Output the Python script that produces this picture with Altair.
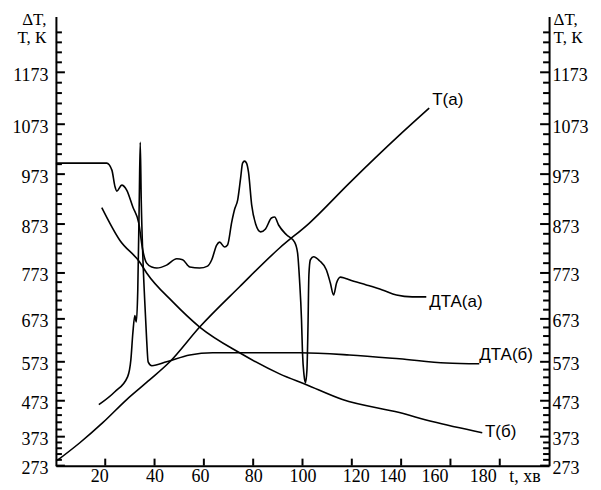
import altair as alt
import pandas as pd

# ---------------- data ----------------
# T(a): heating curve
ta_t = [0.4, 9.7, 19.0, 28.7, 38.1, 46.2, 58.3, 74.5, 90.7, 102.8, 119.0, 139.3, 151.4]
ta_v = [290, 352, 412, 476, 527, 573, 654, 743, 824, 875, 955, 1051, 1104]

# T(б): cooling curve
tb_t = [18.6, 25.9, 34.0, 36.8, 47.4, 58.3, 74.5, 90.7, 101.6, 116.2, 139.3, 152.6, 172.9]
tb_v = [906, 840, 795, 773, 710, 654, 594, 542, 514, 476, 440, 415, 384]

# ДТА(б)
db_t = [17.4, 23.9, 29.1, 30.4, 31.2, 32.0, 32.6, 33.2, 33.8, 34.2, 34.6, 35.2, 36.0,
        36.8, 37.4, 38.9, 44.9, 54.3, 63.6, 74.5, 98.8, 119.0, 139.3, 158.3, 171.7]
db_v = [462, 496, 535, 578, 640, 680, 666, 736, 921, 1037, 921, 814, 714,
        624, 573, 563, 573, 589, 594, 594, 594, 589, 580, 570, 568]

# ДТА(а)
da_t = [0, 20.6, 22.7, 23.9, 24.7, 26.7, 28.7, 31.2, 33.6, 35.2, 36.8, 38.9, 40.9,
        44.9, 49.0, 51.4, 54.3, 58.3, 61.5, 63.2, 65.2, 66.4, 68.4, 69.6, 71.3, 72.5,
        73.7, 74.9, 75.7, 76.5, 77.3, 78.1, 79.4, 81.0, 83.0, 85.0, 87.4, 88.7, 90.3,
        93.5, 96.8, 98.0, 98.8, 99.6, 100.0, 100.6, 101.2, 101.8, 102.2, 102.6, 103.2,
        104.5, 106.9, 109.7, 111.3, 112.6, 113.8, 115.4, 117.0, 119.0, 125.9, 132.4,
        138.1, 144.5, 150.2]
da_v = [995, 995, 981, 949, 939, 951, 941, 907, 875, 820, 793, 785, 783,
        789, 802, 800, 785, 783, 787, 800, 830, 836, 826, 830, 877, 903,
        921, 965, 995, 999, 995, 977, 911, 873, 857, 863, 885, 887, 871,
        851, 836, 814, 758, 671, 594, 540, 519, 552, 647, 769, 800,
        806, 798, 779, 751, 725, 751, 764, 762, 758, 747, 736,
        725, 721, 721]

# curve labels
lab_text = ["Т(а)", "ДТА(а)", "ДТА(б)", "Т(б)"]
lab_t = [152.6, 151.4, 171.7, 174.0]
lab_v = [1119, 710, 589, 387]

# axis ticks
y_major = [273, 373, 473, 573, 673, 773, 873, 973, 1073, 1173]
y_minor = [v for v in range(293, 1285, 20) if (v - 273) % 100 != 0]
x_major = [20, 40, 60, 80, 100, 120, 140, 160, 180]
x_unit_pos = 190
y_title = ["ΔT,", "T, К"]

# ---------------- frames ----------------
rows = []
for name, ts, vs in [("Ta", ta_t, ta_v), ("Tb", tb_t, tb_v),
                     ("DTAb", db_t, db_v), ("DTAa", da_t, da_v)]:
    for i, (t, v) in enumerate(zip(ts, vs)):
        rows.append({"series": name, "t": t, "v": v, "i": i})
df = pd.DataFrame(rows)
lab_df = pd.DataFrame({"t": lab_t, "v": lab_v, "text": lab_text})

ymaj_left = pd.DataFrame({"t": 0, "v": y_major})
ymin_left = pd.DataFrame({"t": 0, "v": y_minor})
ymaj_right = pd.DataFrame({"t": 200, "v": y_major})
ymin_right = pd.DataFrame({"t": 200, "v": y_minor})
xmaj = pd.DataFrame({"t": x_major, "v": 273})

# ---------------- scales ----------------
Y_DOMAIN = [273, 373, 473, 573, 673, 773, 873, 973, 1073, 1173, 1285]
Y_RANGE = [450, 421, 385, 346, 303, 257, 208, 158, 108, 56, 0]
yscale = alt.Scale(domain=Y_DOMAIN, range=Y_RANGE, nice=False, zero=False)
xscale = alt.Scale(domain=[0, 200], nice=False, zero=False)

SERIF = "Liberation Serif"
SANS = "Liberation Sans"

# small horizontal shifts of the x labels as printed in the original
x_label_shift = {"condition": [
    {"test": "datum.value == 20", "value": -6},
    {"test": "datum.value == 60", "value": -4},
    {"test": "datum.value == 120", "value": 4},
    {"test": "datum.value == 140", "value": -9},
    {"test": "datum.value == 160", "value": -16},
    {"test": "datum.value == 180", "value": -17},
], "value": 0}

x_axis = alt.Axis(values=x_major + [x_unit_pos],
                  labelExpr=f"datum.value == {x_unit_pos} ? 't, хв' : datum.label",
                  format="d",
                  ticks=False, grid=False, domainColor="black", domainWidth=2,
                  labelFont=SERIF, labelFontSize=18, labelColor="black",
                  labelPadding=2, labelOffset=x_label_shift,
                  labelFlush=False, labelOverlap=False, title=None)

left_axis = alt.Axis(orient="left", values=y_major, format="d", ticks=False, grid=False,
                     domainColor="black", domainWidth=2,
                     labelFont=SERIF, labelFontSize=18, labelColor="black",
                     labelPadding=8, labelOffset=3, labelFlush=False, labelOverlap=False,
                     title=y_title, titleAngle=0, titleX=-10, titleY=-5,
                     titleAlign="right", titleBaseline="top", titleFont=SERIF,
                     titleFontSize=17, titleFontWeight="normal", titleColor="black",
                     titleLineHeight=18)

right_axis = alt.Axis(orient="right", values=y_major, format="d", ticks=False, grid=False,
                      domainColor="black", domainWidth=2,
                      labelFont=SERIF, labelFontSize=18, labelColor="black",
                      labelPadding=3, labelOffset=3, labelFlush=False, labelOverlap=False,
                      title=y_title, titleAngle=0, titleX=4, titleY=-5,
                      titleAlign="left", titleBaseline="top", titleFont=SERIF,
                      titleFontSize=17, titleFontWeight="normal", titleColor="black",
                      titleLineHeight=18)

X = alt.X("t:Q", scale=xscale, axis=x_axis)
Y_LEFT = alt.Y("v:Q", scale=yscale, axis=left_axis)
Y_RIGHT = alt.Y("v:Q", scale=yscale, axis=right_axis)

lines = alt.Chart(df).mark_line(color="black", strokeWidth=1.6, interpolate="monotone").encode(
    x=X, y=Y_LEFT, detail="series:N", order="i:Q",
)

labels = alt.Chart(lab_df).mark_text(align="left", baseline="middle", font=SANS,
                                     fontSize=17, color="black").encode(
    x=X, y=Y_LEFT, text="text:N",
)


def hticks(data, size, offset, ych):
    return alt.Chart(data).mark_tick(orient="horizontal", size=size, thickness=2,
                                     xOffset=offset, color="black", opacity=1).encode(
        x=X, y=ych,
    )


lt_major = hticks(ymaj_left, 9, 4.5, Y_LEFT)
lt_minor = hticks(ymin_left, 6, 3, Y_LEFT)
rt_major = hticks(ymaj_right, 9, -4.5, Y_RIGHT)
rt_minor = hticks(ymin_right, 6, -3, Y_RIGHT)

bt = alt.Chart(xmaj).mark_tick(orient="vertical", size=7, thickness=2, yOffset=-3.5,
                               color="black", opacity=1).encode(
    x=X, y=Y_LEFT,
)

left_group = alt.layer(lines, labels, lt_major, lt_minor, bt)
right_group = alt.layer(rt_major, rt_minor)

chart = alt.layer(left_group, right_group).resolve_scale(y="independent").properties(
    width=494, height=450,
    padding={"left": 48, "top": 8, "right": 44, "bottom": 22},
    autosize=alt.AutoSizeParams(type="none"),
    background="white",
).configure_view(stroke=None)

chart.save("out.html", embed_options={"renderer": "svg", "actions": False})
